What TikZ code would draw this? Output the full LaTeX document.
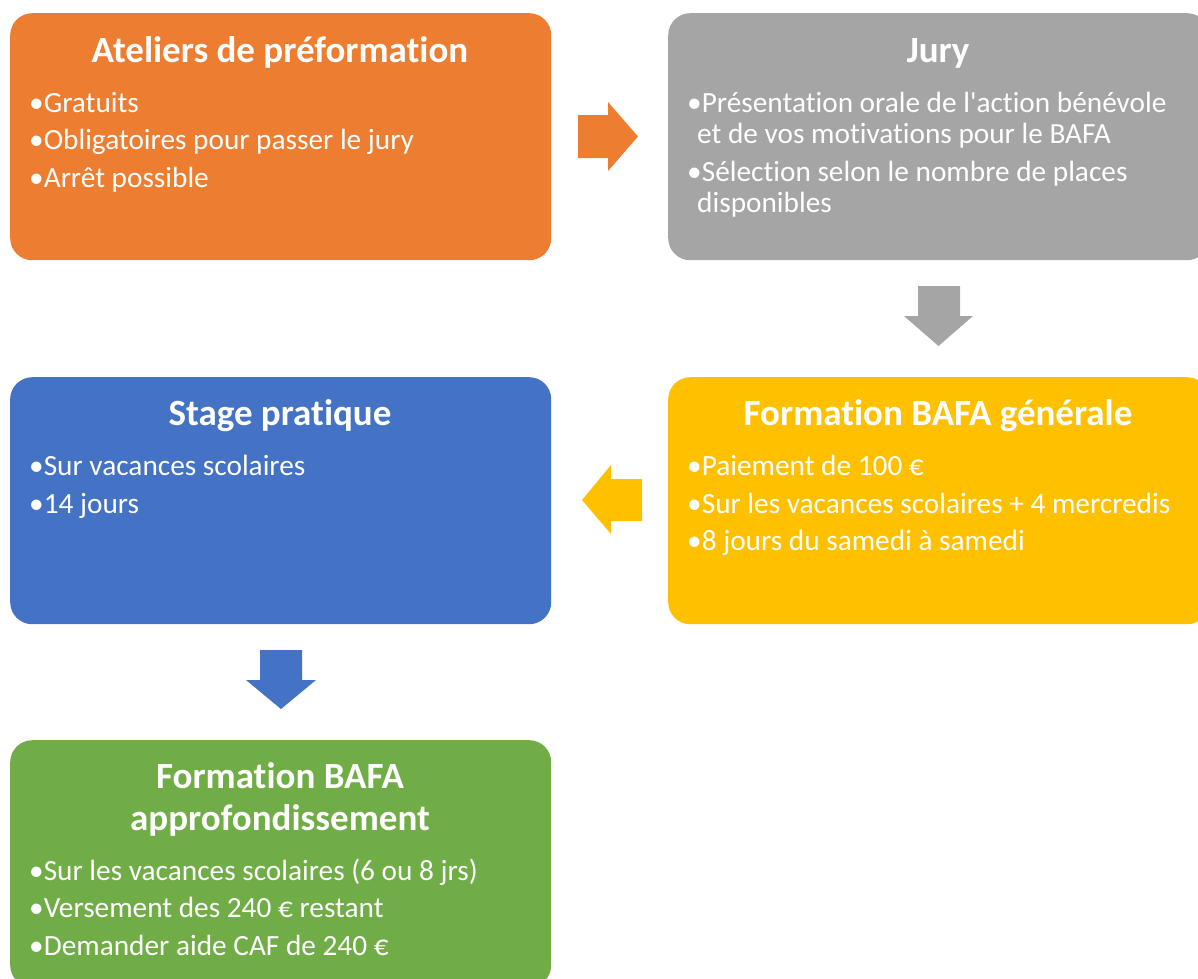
\documentclass[tikz,border=0pt]{standalone}
\usepackage{fontspec}
\newfontfamily\carl{Carlito}[Ligatures=CommonOff]
\definecolor{cOrange}{HTML}{ED7D31}
\definecolor{cGray}{HTML}{A5A5A5}
\definecolor{cBlue}{HTML}{4472C4}
\definecolor{cGold}{HTML}{FFC000}
\definecolor{cGreen}{HTML}{70AD47}
\newcommand{\ttlfont}{\carl\fontsize{37}{44}\selectfont\bfseries}
\newcommand{\txtfont}{\carl\fontsize{29.3}{34}\selectfont}
\begin{document}
\begin{tikzpicture}[x=1pt,y=-1pt,
  box/.style={rounded corners=22, minimum width=541, minimum height=247, inner sep=0, anchor=north west, draw=none},
  ttl/.style={font=\ttlfont, text=white, anchor=base, inner sep=0},
  txt/.style={font=\txtfont, text=white, anchor=base west, inner sep=0}]
\useasboundingbox (0,0) rectangle (1198,978);
\clip (0,0) rectangle (1198,978);
% boxes
\node[box, fill=cOrange] (b1) at (10,13) {};
\node[box, fill=cGray]   (b2) at (668,13) {};
\node[box, fill=cBlue]   (b3) at (10,377) {};
\node[box, fill=cGold]   (b4) at (668,377) {};
\node[box, fill=cGreen]  (b5) at (10,740) {};
% arrows
\fill[cOrange] (578,115)--(608,115)--(608,102)--(638,136.5)--(608,171)--(608,158)--(578,158)--cycle;
\fill[cGray] (918,286)--(960,286)--(960,316)--(973,316)--(938.5,346)--(904,316)--(918,316)--cycle;
\fill[cGold] (642,479)--(611,479)--(611,465)--(582,500)--(611,534)--(611,521)--(642,521)--cycle;
\fill[cBlue] (260,650)--(302,650)--(302,680)--(316,680)--(281,709)--(246,680)--(260,680)--cycle;
% box 1
\node[ttl] (t1) at (280,62) {Ateliers de préformation};
\node[txt] (l11) at (29,112) {•Gratuits};
\node[txt] (l12) at (29,149) {•Obligatoires pour passer le jury};
\node[txt] (l13) at (29,187) {•Arrêt possible};
% box 2
\node[ttl] (t2) at (938,62) {Jury};
\node[txt] (l21) at (687,112) {•Présentation orale de l'action bénévole};
\node[txt] (l22) at (697,143) {et de vos motivations pour le BAFA};
\node[txt] (l23) at (687,181) {•Sélection selon le nombre de places};
\node[txt] (l24) at (697,212) {disponibles};
% box 3
\node[ttl] (t3) at (280,425) {Stage pratique};
\node[txt] (l31) at (29,475) {•Sur vacances scolaires};
\node[txt] (l32) at (29,513) {•14 jours};
% box 4
\node[ttl] (t4) at (938,425) {Formation BAFA générale};
\node[txt] (l41) at (687,475) {•Paiement de 100 €};
\node[txt] (l42) at (687,513) {•Sur les vacances scolaires + 4 mercredis};
\node[txt] (l43) at (687,550) {•8 jours du samedi à samedi};
% box 5
\node[ttl] (t5a) at (280,788) {Formation BAFA};
\node[ttl] (t5b) at (280,830) {approfondissement};
\node[txt] (l51) at (29,880) {•Sur les vacances scolaires (6 ou 8 jrs)};
\node[txt] (l52) at (29,917) {•Versement des 240 € restant};
\node[txt] (l53) at (29,955) {•Demander aide CAF de 240 €};
\end{tikzpicture}
\end{document}
